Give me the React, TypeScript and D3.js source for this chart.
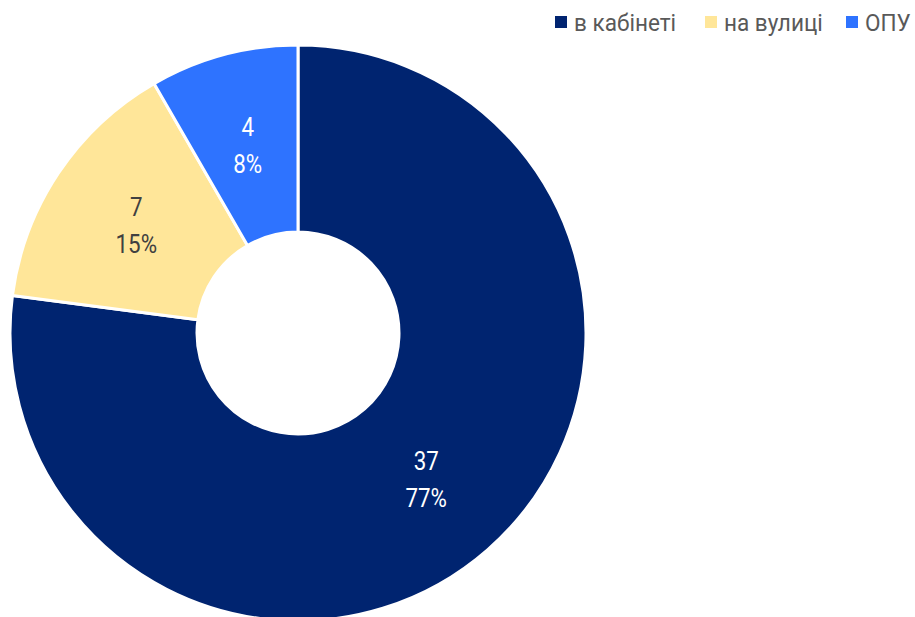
import React from "react";
import * as d3 from "d3";

const categories = ["в кабінеті", "на вулиці", "ОПУ"];
const values = [37, 7, 4];
const colors = ["#002470", "#FFE699", "#2E73FF"];
const labelColors = ["#FFFFFF", "#404040", "#FFFFFF"];

const W = 915;
const H = 617;
const cx = 298;
const cy = 333;
const outerR = 288;
const innerR = 101;
const SX = 0.86;

export default function App() {
  const total = d3.sum(values);
  const pie = d3.pie<number>().sort(null).value((d) => d)(values);
  const arc = d3.arc<d3.PieArcDatum<number>>().innerRadius(innerR).outerRadius(outerR);

  const legendX = [555, 705, 846];

  return (
    <svg width={W} height={H} style={{ position: "absolute", left: 0, top: 0, fontFamily: "Roboto, 'Noto Sans', sans-serif" }}>
      <rect width={W} height={H} fill="#fff" />
      <g transform={`translate(${cx},${cy})`}>
        {pie.map((p, i) => (
          <path key={i} d={arc(p) || ""} fill={colors[i]} stroke="#fff" strokeWidth={3} strokeLinejoin="round" />
        ))}
        {pie.map((p, i) => {
          const [x, y] = arc.centroid(p);
          const pct = Math.round((values[i] / total) * 100) + "%";
          return (
            <g key={"l" + i} fill={labelColors[i]} fontSize={26} textAnchor="middle">
              <text transform={`translate(${x},${y - 9}) scale(${SX},1)`}>{values[i]}</text>
              <text transform={`translate(${x},${y + 28}) scale(${SX},1)`}>{pct}</text>
            </g>
          );
        })}
      </g>
      <g>
        {categories.map((c, i) => (
          <g key={"g" + i}>
            <rect x={legendX[i]} y={16} width={12} height={12} fill={colors[i]} />
            <text
              transform={`translate(${legendX[i] + 19},31) scale(0.94,1)`}
              fontSize={24}
              fill="#595959"
            >
              {c}
            </text>
          </g>
        ))}
      </g>
    </svg>
  );
}
